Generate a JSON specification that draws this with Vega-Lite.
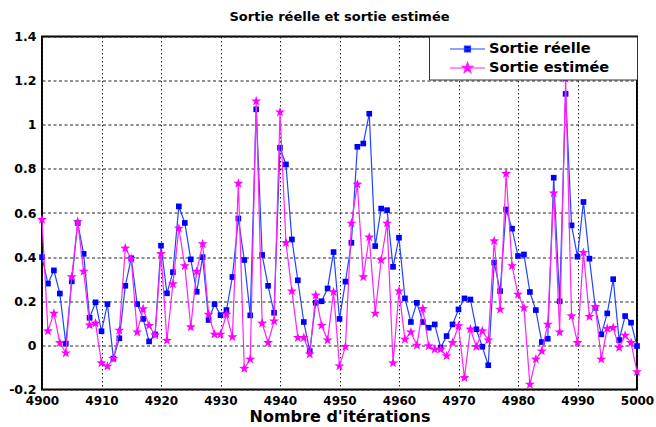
{
  "$schema": "https://vega.github.io/schema/vega-lite/v6.json",
  "width": 595,
  "height": 353,
  "autosize": {"type": "none"},
  "padding": {"left": 42, "top": 36.5, "right": 19, "bottom": 37.5},
  "background": "white",
  "title": {"text": "Sortie réelle et sortie estimée", "fontSize": 13, "fontWeight": "bold", "offset": 7, "anchor": "middle", "color": "black", "font": "DejaVu Sans"},
  "data": {"values": [
    {"it": 4900, "reel": 0.40, "est": 0.57},
    {"it": 4901, "reel": 0.28, "est": 0.065},
    {"it": 4902, "reel": 0.34, "est": 0.145},
    {"it": 4903, "reel": 0.235, "est": 0.012},
    {"it": 4904, "reel": 0.008, "est": -0.035},
    {"it": 4905, "reel": 0.29, "est": 0.31},
    {"it": 4906, "reel": 0.555, "est": 0.56},
    {"it": 4907, "reel": 0.415, "est": 0.335},
    {"it": 4908, "reel": 0.125, "est": 0.092},
    {"it": 4909, "reel": 0.195, "est": 0.10},
    {"it": 4910, "reel": 0.064, "est": -0.08},
    {"it": 4911, "reel": 0.187, "est": -0.095},
    {"it": 4912, "reel": -0.06, "est": -0.06},
    {"it": 4913, "reel": 0.032, "est": 0.068},
    {"it": 4914, "reel": 0.27, "est": 0.44},
    {"it": 4915, "reel": 0.395, "est": 0.393},
    {"it": 4916, "reel": 0.187, "est": 0.06},
    {"it": 4917, "reel": 0.12, "est": 0.165},
    {"it": 4918, "reel": 0.018, "est": 0.09},
    {"it": 4919, "reel": 0.05, "est": 0.046},
    {"it": 4920, "reel": 0.452, "est": 0.415},
    {"it": 4921, "reel": 0.236, "est": 0.022},
    {"it": 4922, "reel": 0.332, "est": 0.278},
    {"it": 4923, "reel": 0.63, "est": 0.53},
    {"it": 4924, "reel": 0.555, "est": 0.36},
    {"it": 4925, "reel": 0.39, "est": 0.083},
    {"it": 4926, "reel": 0.243, "est": 0.335},
    {"it": 4927, "reel": 0.40, "est": 0.46},
    {"it": 4928, "reel": 0.115, "est": 0.14},
    {"it": 4929, "reel": 0.187, "est": 0.05},
    {"it": 4930, "reel": 0.137, "est": 0.05},
    {"it": 4931, "reel": 0.16, "est": 0.14},
    {"it": 4932, "reel": 0.31, "est": 0.038},
    {"it": 4933, "reel": 0.575, "est": 0.734},
    {"it": 4934, "reel": 0.387, "est": -0.105},
    {"it": 4935, "reel": 0.136, "est": -0.063},
    {"it": 4936, "reel": 1.07, "est": 1.107},
    {"it": 4937, "reel": 0.41, "est": 0.10},
    {"it": 4938, "reel": 0.27, "est": 0.012},
    {"it": 4939, "reel": 0.148, "est": 0.11},
    {"it": 4940, "reel": 0.896, "est": 1.057},
    {"it": 4941, "reel": 0.82, "est": 0.465},
    {"it": 4942, "reel": 0.48, "est": 0.246},
    {"it": 4943, "reel": 0.295, "est": 0.035},
    {"it": 4944, "reel": 0.106, "est": 0.035},
    {"it": 4945, "reel": -0.026, "est": -0.04},
    {"it": 4946, "reel": 0.193, "est": 0.227},
    {"it": 4947, "reel": 0.20, "est": 0.09},
    {"it": 4948, "reel": 0.258, "est": 0.024},
    {"it": 4949, "reel": 0.423, "est": 0.242},
    {"it": 4950, "reel": 0.12, "est": -0.094},
    {"it": 4951, "reel": 0.289, "est": -0.006},
    {"it": 4952, "reel": 0.465, "est": 0.553},
    {"it": 4953, "reel": 0.90, "est": 0.73},
    {"it": 4954, "reel": 0.915, "est": 0.31},
    {"it": 4955, "reel": 1.05, "est": 0.49},
    {"it": 4956, "reel": 0.45, "est": 0.145},
    {"it": 4957, "reel": 0.62, "est": 0.387},
    {"it": 4958, "reel": 0.613, "est": 0.553},
    {"it": 4959, "reel": 0.356, "est": -0.08},
    {"it": 4960, "reel": 0.488, "est": 0.246},
    {"it": 4961, "reel": 0.213, "est": 0.027},
    {"it": 4962, "reel": 0.106, "est": 0.06},
    {"it": 4963, "reel": 0.193, "est": 0.0},
    {"it": 4964, "reel": 0.106, "est": 0.166},
    {"it": 4965, "reel": 0.08, "est": -0.003},
    {"it": 4966, "reel": 0.095, "est": -0.018},
    {"it": 4967, "reel": -0.01, "est": -0.018},
    {"it": 4968, "reel": 0.042, "est": -0.048},
    {"it": 4969, "reel": 0.095, "est": 0.012},
    {"it": 4970, "reel": 0.163, "est": 0.088},
    {"it": 4971, "reel": 0.213, "est": -0.147},
    {"it": 4972, "reel": 0.208, "est": 0.073},
    {"it": 4973, "reel": 0.073, "est": -0.006},
    {"it": 4974, "reel": -0.006, "est": 0.065},
    {"it": 4975, "reel": -0.09, "est": 0.024},
    {"it": 4976, "reel": 0.375, "est": 0.473},
    {"it": 4977, "reel": 0.246, "est": 0.163},
    {"it": 4978, "reel": 0.616, "est": 0.778},
    {"it": 4979, "reel": 0.529, "est": 0.36},
    {"it": 4980, "reel": 0.405, "est": 0.231},
    {"it": 4981, "reel": 0.412, "est": 0.17},
    {"it": 4982, "reel": 0.242, "est": -0.177},
    {"it": 4983, "reel": 0.16, "est": -0.063},
    {"it": 4984, "reel": 0.015, "est": -0.026},
    {"it": 4985, "reel": 0.03, "est": 0.095},
    {"it": 4986, "reel": 0.76, "est": 0.69},
    {"it": 4987, "reel": 0.20, "est": 0.06},
    {"it": 4988, "reel": 1.14, "est": 1.21},
    {"it": 4989, "reel": 0.544, "est": 0.133},
    {"it": 4990, "reel": 0.402, "est": 0.012},
    {"it": 4991, "reel": 0.65, "est": 0.42},
    {"it": 4992, "reel": 0.393, "est": 0.13},
    {"it": 4993, "reel": 0.17, "est": 0.175},
    {"it": 4994, "reel": 0.05, "est": -0.063},
    {"it": 4995, "reel": 0.145, "est": 0.076},
    {"it": 4996, "reel": 0.30, "est": 0.08},
    {"it": 4997, "reel": 0.024, "est": -0.01},
    {"it": 4998, "reel": 0.133, "est": 0.045},
    {"it": 4999, "reel": 0.103, "est": 0.012},
    {"it": 5000, "reel": -0.003, "est": -0.12}
  ]},
  "encoding": {
    "x": {
      "field": "it", "type": "quantitative",
      "scale": {"domain": [4900, 5000], "nice": false, "zero": false},
      "axis": {
        "values": [4900, 4910, 4920, 4930, 4940, 4950, 4960, 4970, 4980, 4990, 5000],
        "format": "d", "title": "Nombre d'itérations",
        "labelFontSize": 12, "labelFontWeight": "bold", "labelColor": "black", "labelPadding": 6, "labelFlush": false,
        "ticks": false, "domain": false,
        "grid": true, "gridDash": [1.5, 2.5], "gridColor": "#222", "gridOpacity": 1, "gridWidth": 1,
        "titleFontSize": 16, "titleFontWeight": "bold", "titleColor": "black", "titlePadding": 2
      }
    }
  },
  "layer": [
    {
      "mark": {"type": "line", "color": "#2244ff", "strokeWidth": 1.2},
      "encoding": {
        "y": {
          "field": "reel", "type": "quantitative",
          "scale": {"domain": [-0.2, 1.4], "nice": false, "zero": false},
          "axis": {
            "values": [-0.2, 0, 0.2, 0.4, 0.6, 0.8, 1, 1.2, 1.4],
            "labelExpr": "datum.value < 0 ? '-' + format(-datum.value, '.1~f') : format(datum.value, '.1~f')",
            "title": null,
            "labelFontSize": 12.5, "labelFontWeight": "bold", "labelColor": "black", "labelPadding": 6, "labelFlush": false,
            "ticks": false, "domain": false,
            "grid": true, "gridDash": [3, 2.5], "gridColor": "#222", "gridOpacity": 1, "gridWidth": 1
          }
        }
      }
    },
    {
      "mark": {"type": "point", "shape": "square", "filled": true, "color": "#0000ff", "size": 32, "opacity": 1},
      "encoding": {"y": {"field": "reel", "type": "quantitative"}}
    },
    {
      "mark": {"type": "line", "color": "#ff22ff", "strokeWidth": 1.2},
      "encoding": {"y": {"field": "est", "type": "quantitative"}}
    },
    {
      "mark": {"type": "point", "shape": "M0,-1L0.235,-0.324L0.951,-0.309L0.38,0.124L0.588,0.809L0,0.4L-0.588,0.809L-0.38,0.124L-0.951,-0.309L-0.235,-0.324Z", "filled": true, "color": "#ff00ff", "size": 110, "opacity": 1},
      "encoding": {"y": {"field": "est", "type": "quantitative"}}
    },
    {
      "transform": [{"filter": "false"}],
      "mark": {"type": "point", "filled": true, "opacity": 1},
      "encoding": {
        "fill": {"field": "serie", "type": "nominal", "scale": {"domain": ["Sortie réelle", "Sortie estimée"], "range": ["#0000ff", "#ff00ff"]}, "legend": {"title": null, "labelExpr": "datum.label + '\u2800\u2800'"}},
        "stroke": {"field": "serie", "type": "nominal", "scale": {"domain": ["Sortie réelle", "Sortie estimée"], "range": ["#2244ff", "#ff22ff"]}, "legend": {"title": null, "labelExpr": "datum.label + '\u2800\u2800'"}},
        "shape": {"field": "serie", "type": "nominal", "scale": {"domain": ["Sortie réelle", "Sortie estimée"], "range": [
          "M-2.5,0L2.5,0M-0.43,-0.43L0.43,-0.43L0.43,0.43L-0.43,0.43Z",
          "M-2.5,0L2.5,0M0,-0.79L0.186,-0.256L0.751,-0.244L0.3,0.098L0.465,0.639L0,0.316L-0.465,0.639L-0.3,0.098L-0.751,-0.244L-0.186,-0.256Z"
        ]}, "legend": {"title": null, "labelExpr": "datum.label + '\u2800\u2800'"}}
      }
    }
  ],
  "config": {
    "font": "DejaVu Sans",
    "view": {"stroke": "black", "strokeWidth": 2},
    "legend": {
      "orient": "top-right", "offset": 0,
      "strokeColor": "#333", "fillColor": "white", "padding": 4.5,
      "labelFont": "DejaVu Sans", "labelFontSize": 14.6, "labelFontWeight": "bold", "labelColor": "black",
      "symbolSize": 196, "symbolStrokeWidth": 1.2, "symbolOffset": 26, "labelOffset": 13.5, "rowPadding": 4
    }
  }
}
